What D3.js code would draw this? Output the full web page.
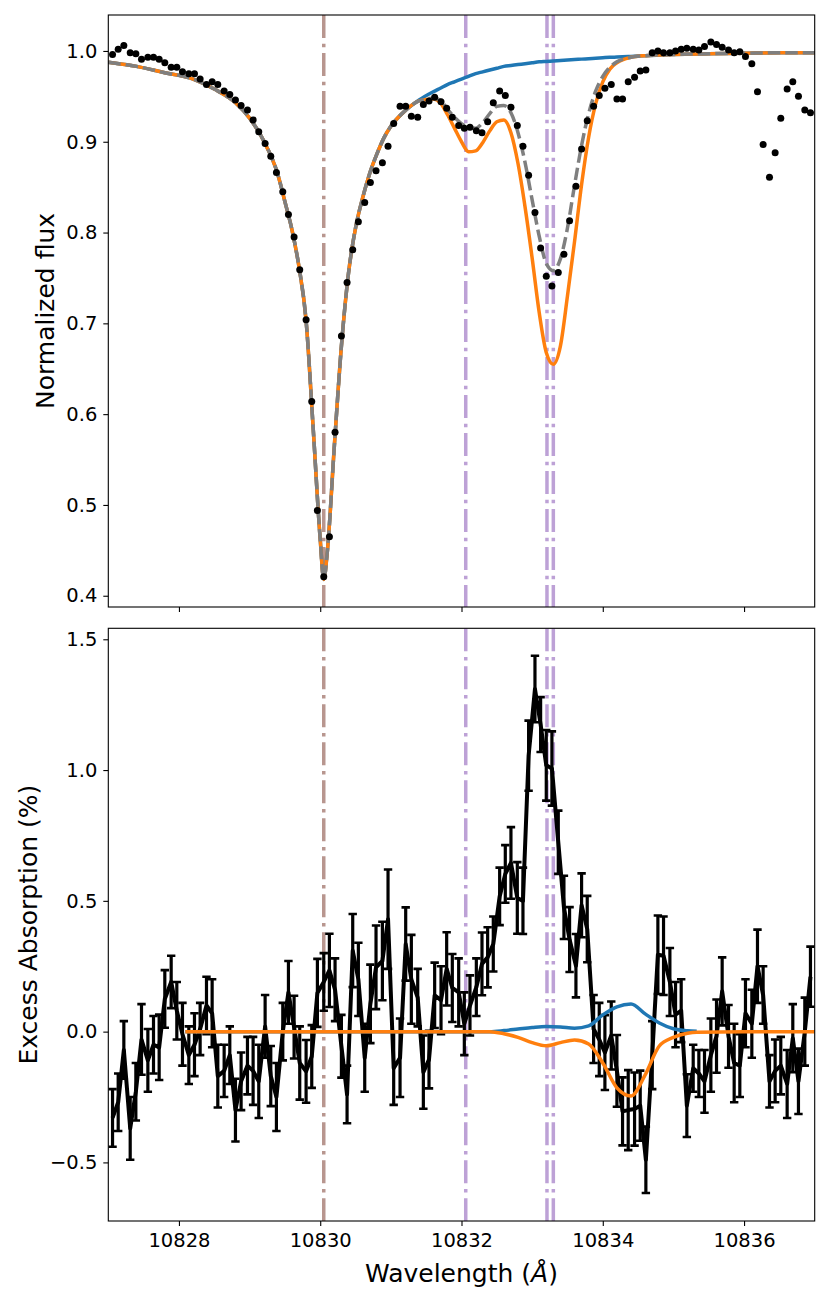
<!DOCTYPE html>
<html>
<head>
<meta charset="utf-8">
<script src="https://cdn.jsdelivr.net/npm/d3@7"></script>
<style>
  html, body { margin: 0; padding: 0; background: #fff; }
  svg text { font-family: "DejaVu Sans", sans-serif; fill: #000; }
</style>
</head>
<body>
<svg id="chart"></svg>
<script>
const WIDTH = 830;
const HEIGHT = 1307;

// observed wavelength grid (Angstrom), shared by both panels
const wave = [
  10827.06, 10827.14, 10827.22, 10827.31, 10827.39, 10827.47, 10827.56, 10827.64, 10827.72, 10827.80,
  10827.89, 10827.97, 10828.05, 10828.14, 10828.22, 10828.30, 10828.39, 10828.47, 10828.55, 10828.64,
  10828.72, 10828.80, 10828.88, 10828.97, 10829.05, 10829.13, 10829.22, 10829.30, 10829.38, 10829.47,
  10829.55, 10829.63, 10829.71, 10829.80, 10829.88, 10829.96, 10830.05, 10830.13, 10830.21, 10830.30,
  10830.38, 10830.46, 10830.54, 10830.63, 10830.71, 10830.79, 10830.88, 10830.96, 10831.04, 10831.13,
  10831.21, 10831.29, 10831.38, 10831.46, 10831.54, 10831.62, 10831.71, 10831.79, 10831.87, 10831.96,
  10832.04, 10832.12, 10832.21, 10832.29, 10832.37, 10832.45, 10832.54, 10832.62, 10832.70, 10832.79,
  10832.87, 10832.95, 10833.04, 10833.12, 10833.20, 10833.28, 10833.37, 10833.45, 10833.53, 10833.62,
  10833.70, 10833.78, 10833.87, 10833.95, 10834.03, 10834.12, 10834.20, 10834.28, 10834.36, 10834.45,
  10834.53, 10834.61, 10834.70, 10834.78, 10834.86, 10834.95, 10835.03, 10835.11, 10835.19, 10835.28,
  10835.36, 10835.44, 10835.53, 10835.61, 10835.69, 10835.78, 10835.86, 10835.94, 10836.02, 10836.11,
  10836.19, 10836.27, 10836.36, 10836.44, 10836.52, 10836.61, 10836.69, 10836.77, 10836.86, 10836.94
];

// top panel: observed normalized flux
const flux = [
  0.996, 1.002, 1.006, 0.998, 0.997, 0.991, 0.993, 0.993, 0.991, 0.987,
  0.982, 0.982, 0.977, 0.975, 0.975, 0.969, 0.963, 0.966, 0.963, 0.956,
  0.952, 0.946, 0.940, 0.935, 0.924, 0.911, 0.898, 0.884, 0.866, 0.845,
  0.820, 0.795, 0.759, 0.704, 0.614, 0.494, 0.421, 0.465, 0.580, 0.686,
  0.745, 0.781, 0.812, 0.833, 0.855, 0.868, 0.877, 0.895, 0.920, 0.939,
  0.939, 0.928, 0.927, 0.941, 0.945, 0.949, 0.944, 0.937, 0.927, 0.918,
  0.915, 0.916, 0.912, 0.910, 0.922, 0.943, 0.956, 0.951, 0.938, 0.918,
  0.895, 0.863, 0.822, 0.783, 0.752, 0.741, 0.756, 0.776, 0.813, 0.851,
  0.892, 0.923, 0.939, 0.951, 0.959, 0.963, 0.947, 0.947, 0.966, 0.971,
  0.978, 0.979, 0.998, 1.000, 0.998, 0.998, 1.000, 1.002, 1.003, 1.002,
  1.001, 1.005, 1.010, 1.007, 1.004, 1.001, 0.998, 0.999, 0.994, 0.986,
  0.955, 0.897, 0.861, 0.888, 0.926, 0.958, 0.966, 0.950, 0.935, 0.932
];

// bottom panel: excess absorption (%) and its error
const excess = [
  -0.33, -0.27, -0.07, -0.37, -0.23, -0.03, -0.11, -0.05, -0.06, 0.125,
  0.19, 0.08, -0.01, -0.09, -0.05, 0.01, 0.10, 0.07, -0.17, -0.15,
  -0.09, -0.30, -0.19, -0.13, -0.15, -0.19, 0.02, -0.17, -0.25, 0.0,
  0.15, 0.017, -0.12, -0.152, -0.095, 0.148, 0.19, 0.234, 0.16, -0.056,
  -0.24, 0.31, 0.2, -0.10, 0.106, 0.246, 0.27, 0.43, -0.14, -0.10,
  0.335, 0.2, 0.13, -0.155, -0.107, 0.139, 0.12, 0.24, 0.167, 0.15,
  0.03, 0.10, 0.17, 0.259, 0.284, 0.335, 0.517, 0.603, 0.645, 0.511,
  0.50, 1.055, 1.31, 1.174, 1.018, 1.006, 0.724, 0.475, 0.352, 0.252,
  0.483, 0.392, 0.01, -0.03, -0.08, -0.015, -0.15, -0.305, -0.30, -0.296,
  -0.283, -0.49, -0.09, 0.294, 0.29, 0.19, 0.065, 0.08, -0.283, -0.14,
  -0.16, -0.19, -0.09, -0.017, 0.154, -0.018, -0.12, -0.13, 0.07, 0.03,
  0.25, 0.14, -0.19, -0.15, -0.13, -0.2, -0.025, -0.19, 0.0, 0.21
];
const excessErr = [
  0.11, 0.11, 0.11, 0.12, 0.11, 0.135, 0.12, 0.11, 0.125, 0.11,
  0.10, 0.11, 0.12, 0.11, 0.12, 0.10, 0.11, 0.13, 0.12, 0.10,
  0.11, 0.12, 0.11, 0.11, 0.13, 0.14, 0.12, 0.115, 0.13, 0.11,
  0.12, 0.12, 0.14, 0.12, 0.12, 0.13, 0.11, 0.14, 0.12, 0.12,
  0.11, 0.14, 0.14, 0.13, 0.15, 0.16, 0.15, 0.19, 0.14, 0.15,
  0.14, 0.17, 0.11, 0.14, 0.11, 0.125, 0.13, 0.14, 0.13, 0.13,
  0.12, 0.115, 0.11, 0.12, 0.115, 0.105, 0.11, 0.11, 0.137, 0.137,
  0.127, 0.134, 0.127, 0.105, 0.135, 0.142, 0.121, 0.121, 0.124, 0.121,
  0.122, 0.127, 0.13, 0.14, 0.143, 0.13, 0.137, 0.13, 0.153, 0.14,
  0.134, 0.127, 0.13, 0.15, 0.15, 0.13, 0.125, 0.12, 0.12, 0.09,
  0.09, 0.12, 0.14, 0.14, 0.13, 0.12, 0.15, 0.12, 0.13, 0.13,
  0.14, 0.11, 0.10, 0.12, 0.11, 0.13, 0.13, 0.125, 0.13, 0.115
];

// top panel model curves (stellar only, stellar + planet, best fit)
const modelWave = [
  10827.0, 10827.4, 10827.8, 10828.2, 10828.5, 10828.8, 10829.0, 10829.2, 10829.4, 10829.5,
  10829.6, 10829.7, 10829.8, 10829.9, 10830.0, 10830.05, 10830.1, 10830.2, 10830.3, 10830.4,
  10830.5, 10830.6, 10830.7, 10830.8, 10830.9, 10831.0, 10831.2, 10831.4, 10831.6, 10831.7,
  10831.8, 10831.9, 10832.0, 10832.1, 10832.2, 10832.3, 10832.4, 10832.5, 10832.6, 10832.7,
  10832.8, 10832.9, 10833.0, 10833.1, 10833.2, 10833.3, 10833.4, 10833.5, 10833.6, 10833.7,
  10833.8, 10833.9, 10834.0, 10834.1, 10834.2, 10834.4, 10834.6, 10835.0, 10835.5, 10836.0,
  10836.5, 10837.0
];
const stellarModel = [
  0.9875, 0.983, 0.976, 0.969, 0.958, 0.943, 0.926, 0.901, 0.864, 0.834,
  0.803, 0.762, 0.703, 0.585, 0.462, 0.418, 0.448, 0.565, 0.675, 0.755,
  0.805, 0.838, 0.865, 0.886, 0.904, 0.917, 0.934, 0.946, 0.955, 0.959,
  0.963, 0.966, 0.969, 0.972, 0.975, 0.977, 0.979, 0.981, 0.983, 0.984,
  0.985, 0.986, 0.987, 0.988, 0.9885, 0.989, 0.9895, 0.990, 0.9905, 0.991,
  0.9915, 0.992, 0.9925, 0.993, 0.9933, 0.994, 0.9948, 0.996, 0.997, 0.9975,
  0.998, 0.998
];
const absorbedModel = [
  0.9875, 0.983, 0.976, 0.969, 0.958, 0.943, 0.926, 0.901, 0.864, 0.834,
  0.803, 0.762, 0.703, 0.585, 0.462, 0.418, 0.448, 0.565, 0.675, 0.755,
  0.805, 0.838, 0.865, 0.886, 0.904, 0.917, 0.934, 0.945, 0.947, 0.943,
  0.930, 0.915, 0.900, 0.889, 0.890, 0.899, 0.912, 0.922, 0.924, 0.910,
  0.876, 0.828, 0.772, 0.712, 0.668, 0.655, 0.675, 0.730, 0.790, 0.853,
  0.905, 0.942, 0.966, 0.980, 0.987, 0.993, 0.9948, 0.996, 0.997, 0.9975,
  0.998, 0.998
];
const fitModel = [
  0.9875, 0.983, 0.976, 0.969, 0.958, 0.943, 0.926, 0.901, 0.864, 0.834,
  0.803, 0.762, 0.703, 0.585, 0.462, 0.418, 0.448, 0.565, 0.675, 0.755,
  0.805, 0.838, 0.865, 0.886, 0.904, 0.917, 0.934, 0.945, 0.948, 0.946,
  0.936, 0.927, 0.920, 0.916, 0.915, 0.921, 0.931, 0.939, 0.940, 0.932,
  0.910, 0.877, 0.836, 0.796, 0.766, 0.758, 0.771, 0.805, 0.852, 0.896,
  0.931, 0.956, 0.972, 0.982, 0.988, 0.993, 0.9948, 0.996, 0.997, 0.9975,
  0.998, 0.998
];

// bottom panel model curves (%)
const excessWave = [
  10828.09, 10832.4, 10832.6, 10832.8, 10833.0, 10833.2, 10833.4, 10833.6, 10833.8, 10834.0,
  10834.2, 10834.4, 10834.6, 10834.8, 10835.0, 10835.2, 10835.33, 10836.0, 10837.0
];
const excessBlue = [
  0, 0, 0.004, 0.010, 0.016, 0.020, 0.018, 0.013, 0.022, 0.064,
  0.095, 0.106, 0.068, 0.033, 0.011, 0.003, 0.001, null, null
];
const excessOrange = [
  0, 0, -0.008, -0.022, -0.042, -0.054, -0.042, -0.032, -0.047, -0.12,
  -0.215, -0.246, -0.165, -0.055, -0.022, -0.006, -0.002, 0, 0
];

const siLines = [10830.05];
const heLines = [10832.06, 10833.21, 10833.30];

const xTicks = [10828, 10830, 10832, 10834, 10836];
const fluxTicks = [0.4, 0.5, 0.6, 0.7, 0.8, 0.9, 1.0];
const excessTicks = [-0.5, 0.0, 0.5, 1.0, 1.5];

const LEFT = 108.3, RIGHT = 814.7;
const TOP1 = 15, BOT1 = 607;
const TOP2 = 628.3, BOT2 = 1221;

const svg = d3.select("#chart")
  .attr("width", WIDTH)
  .attr("height", HEIGHT);

const x = d3.scaleLinear().domain([10827, 10837]).range([LEFT, RIGHT]);
const yTop = d3.scaleLinear().domain([0.3876, 1.0396]).range([BOT1, TOP1]);
const yBot = d3.scaleLinear().domain([-0.724, 1.542]).range([BOT2, TOP2]);

svg.append("defs").selectAll("clipPath")
  .data([["clipTop", TOP1, BOT1], ["clipBot", TOP2, BOT2]])
  .join("clipPath")
  .attr("id", d => d[0])
  .append("rect")
  .attr("x", LEFT).attr("y", d => d[1])
  .attr("width", RIGHT - LEFT).attr("height", d => d[2] - d[1]);

const fmt = d3.format(".1f");
const tickFont = "19.5px";

function drawVlines(g, y0, y1) {
  const vl = siLines.map(w => ({ w, c: "#8c564b" }))
    .concat(heLines.map(w => ({ w, c: "#9467bd" })));
  g.selectAll("line.vl")
    .data(vl)
    .join("line")
    .attr("x1", d => x(d.w)).attr("x2", d => x(d.w))
    .attr("y1", y0).attr("y2", y1)
    .attr("stroke", d => d.c)
    .attr("stroke-opacity", 0.62)
    .attr("stroke-width", 3.5)
    .attr("stroke-dasharray", "23,5.7,3.6,5.7");
}

function drawFrame(yScale, yTicks, y0, y1, showXLabels) {
  const xAxis = svg.append("g")
    .attr("transform", `translate(0,${y1})`)
    .call(d3.axisBottom(x).tickValues(xTicks).tickSize(5).tickPadding(7)
      .tickFormat(showXLabels ? d3.format("d") : ""));
  const yAxis = svg.append("g")
    .attr("transform", `translate(${LEFT},0)`)
    .call(d3.axisLeft(yScale).tickValues(yTicks).tickSize(5).tickPadding(6)
      .tickFormat(d => fmt(d).replace("-", "\u2212")));
  [xAxis, yAxis].forEach(a => {
    a.select(".domain").remove();
    a.selectAll(".tick line").attr("stroke", "#000").attr("stroke-width", 1.1);
    a.selectAll(".tick text").style("font-size", tickFont).attr("fill", "#000");
  });
  svg.append("rect")
    .attr("x", LEFT).attr("y", y0)
    .attr("width", RIGHT - LEFT).attr("height", y1 - y0)
    .attr("fill", "none")
    .attr("stroke", "#000")
    .attr("stroke-width", 1.1);
}

// ---- top panel ----
const gTop = svg.append("g").attr("clip-path", "url(#clipTop)");
drawVlines(gTop, TOP1, BOT1);

const lineTop = d3.line()
  .x(d => x(d[0]))
  .y(d => yTop(d[1]))
  .curve(d3.curveMonotoneX);

const topCurves = [
  { vals: stellarModel, color: "#1f77b4", dash: null },
  { vals: absorbedModel, color: "#ff7f0e", dash: null },
  { vals: fitModel, color: "#7f7f7f", dash: "12.5,5" }
];
topCurves.forEach(c => {
  gTop.append("path")
    .datum(modelWave.map((w, i) => [w, c.vals[i]]))
    .attr("fill", "none")
    .attr("stroke", c.color)
    .attr("stroke-width", 3.5)
    .attr("stroke-dasharray", c.dash)
    .attr("d", lineTop);
});

gTop.selectAll("circle")
  .data(wave.map((w, i) => [w, flux[i]]))
  .join("circle")
  .attr("cx", d => x(d[0]))
  .attr("cy", d => yTop(d[1]))
  .attr("r", 3.5)
  .attr("fill", "#000");

drawFrame(yTop, fluxTicks, TOP1, BOT1, false);

// ---- bottom panel ----
const gBot = svg.append("g").attr("clip-path", "url(#clipBot)");
drawVlines(gBot, TOP2, BOT2);

const pts = wave.map((w, i) => ({ w, v: excess[i], e: excessErr[i] }));

gBot.selectAll("line.err")
  .data(pts)
  .join("line")
  .attr("class", "err")
  .attr("x1", d => x(d.w)).attr("x2", d => x(d.w))
  .attr("y1", d => yBot(d.v - d.e)).attr("y2", d => yBot(d.v + d.e))
  .attr("stroke", "#000").attr("stroke-width", 3.2);

gBot.selectAll("path.cap")
  .data(pts)
  .join("path")
  .attr("class", "cap")
  .attr("d", d => {
    const cx = x(d.w);
    return `M${cx - 4.2},${yBot(d.v - d.e)}H${cx + 4.2}M${cx - 4.2},${yBot(d.v + d.e)}H${cx + 4.2}`;
  })
  .attr("stroke", "#000").attr("stroke-width", 2.6);

gBot.append("path")
  .datum(pts)
  .attr("fill", "none")
  .attr("stroke", "#000")
  .attr("stroke-width", 4)
  .attr("stroke-linejoin", "round")
  .attr("d", d3.line().x(d => x(d.w)).y(d => yBot(d.v)));

const lineBot = d3.line()
  .defined(d => d[1] !== null)
  .x(d => x(d[0]))
  .y(d => yBot(d[1]))
  .curve(d3.curveMonotoneX);

[[excessBlue, "#1f77b4"], [excessOrange, "#ff7f0e"]].forEach(([vals, color]) => {
  gBot.append("path")
    .datum(excessWave.map((w, i) => [w, vals[i]]))
    .attr("fill", "none")
    .attr("stroke", color)
    .attr("stroke-width", 3.5)
    .attr("d", lineBot);
});

drawFrame(yBot, excessTicks, TOP2, BOT2, true);

// ---- axis labels ----
svg.append("text")
  .attr("transform", `translate(54,${(TOP1 + BOT1) / 2}) rotate(-90)`)
  .attr("text-anchor", "middle")
  .style("font-size", "25px")
  .text("Normalized flux");

svg.append("text")
  .attr("transform", `translate(36.5,${(TOP2 + BOT2) / 2}) rotate(-90)`)
  .attr("text-anchor", "middle")
  .style("font-size", "25px")
  .text("Excess Absorption (%)");

const xl = svg.append("text")
  .attr("x", (LEFT + RIGHT) / 2)
  .attr("y", 1282)
  .attr("text-anchor", "middle")
  .style("font-size", "25px");
xl.append("tspan").text("Wavelength (");
xl.append("tspan").style("font-style", "italic").text("Å");
xl.append("tspan").text(")");
</script>
</body>
</html>
